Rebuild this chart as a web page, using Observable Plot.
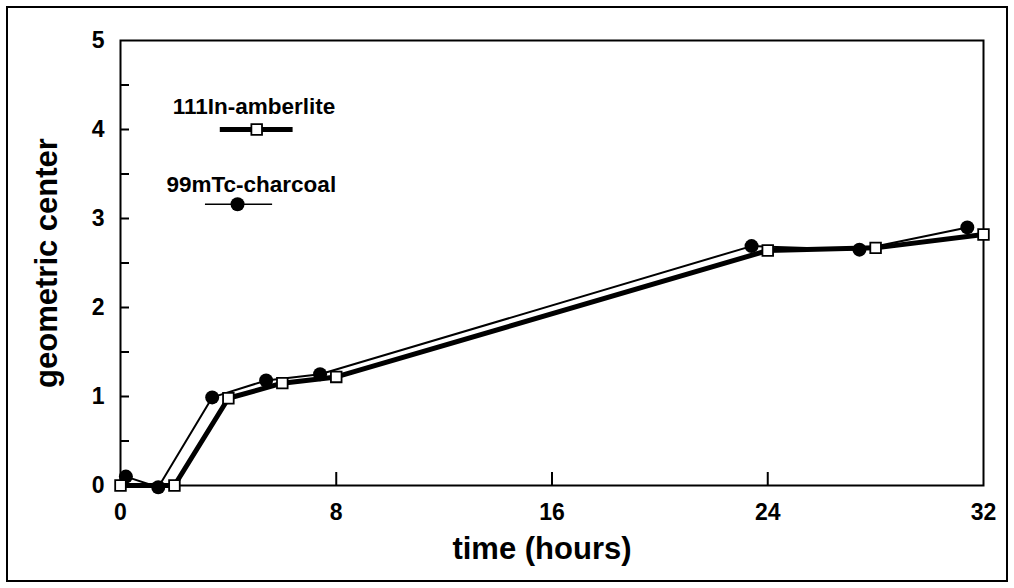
<!DOCTYPE html>
<html><head><meta charset="utf-8">
<script src="https://cdn.jsdelivr.net/npm/d3@7"></script>
<script src="https://cdn.jsdelivr.net/npm/@observablehq/plot@0.6"></script>
<style>
body{margin:0;background:#fff;}
#wrap{position:relative;width:1014px;height:588px;}
#border{position:absolute;left:6px;top:6px;width:998px;height:572px;border:2px solid #000;pointer-events:none;}
</style></head><body>
<div id="wrap"><div id="border"></div></div>
<script>
// Data
const amberTime  = [0, 2, 4, 6, 8, 24, 28, 32];
const amberValue = [0, 0, 0.98, 1.15, 1.22, 2.64, 2.67, 2.82];
const charTime   = [0.2, 1.4, 3.4, 5.4, 7.4, 23.4, 27.4, 31.4];
const charValue  = [0.1, -0.02, 0.99, 1.18, 1.25, 2.69, 2.65, 2.9];
const seriesNames = ["111In-amberlite", "99mTc-charcoal"];
const xTickLabels = [0, 8, 16, 24, 32];
const xInnerTicks = [8, 16, 24];
const yTickLabels = [0, 1, 2, 3, 4, 5];
const yInnerTicks = [0.5, 1, 1.5, 2, 2.5, 3, 3.5, 4, 4.5];
const xTitle = "time (hours)";
const yTitle = "geometric center";

const amber = amberTime.map((t, i) => ({t, v: amberValue[i]}));
const charcoal = charTime.map((t, i) => ({t, v: charValue[i]}));

const W = 1014, H = 588, mL = 120, mR = 31, mT = 40, mB = 103;
const fw = W - mL - mR, fh = H - mT - mB;

// legend layout (in data coordinates)
const legAmber = {text: seriesNames[0], tx: 4.95, ty: 4.25, x1: 3.7, x2: 6.4, y: 4.0, mx: 5.05};
const legChar  = {text: seriesNames[1], tx: 4.85, ty: 3.38, x1: 3.15, x2: 5.64, y: 3.16, mx: 4.34};

const chart = Plot.plot({
  width: W, height: H,
  marginLeft: mL, marginRight: mR, marginTop: mT, marginBottom: mB,
  x: {domain: [0, 32]},
  y: {domain: [0, 5]},
  style: {fontFamily: "'Liberation Sans', Arial, sans-serif", fontSize: "23px", fontWeight: "bold", color: "#000", background: "transparent"},
  marks: [
    Plot.frame({stroke: "#000", strokeWidth: 2}),
    Plot.axisX({ticks: xTickLabels, tickSize: 0, tickPadding: 18, label: null, fontSize: 23, fontWeight: "bold", tickFormat: d => String(d)}),
    Plot.axisY({ticks: yTickLabels, tickSize: 0, tickPadding: 16, label: null, fontSize: 23, fontWeight: "bold", tickFormat: d => String(d)}),
    Plot.ruleX(xInnerTicks, {x: d => d, insetTop: fh - 13, stroke: "#000", strokeWidth: 2}),
    Plot.ruleY(yInnerTicks, {y: d => d, insetRight: fw - 9, stroke: "#000", strokeWidth: 2}),
    Plot.text([xTitle], {frameAnchor: "bottom", lineAnchor: "middle", dy: 64, dx: -10, fontSize: 31, fontWeight: "bold"}),
    Plot.text([yTitle], {frameAnchor: "left", textAnchor: "middle", lineAnchor: "middle", dx: -73, rotate: -90, fontSize: 31, fontWeight: "bold"}),
    Plot.line(charcoal, {x: "t", y: "v", stroke: "#000", strokeWidth: 2}),
    Plot.line(amber, {x: "t", y: "v", stroke: "#000", strokeWidth: 5}),
    Plot.dot(charcoal, {x: "t", y: "v", r: 7, fill: "#000", stroke: "none"}),
    Plot.dot(amber, {x: "t", y: "v", symbol: "square", r: 6, fill: "#fff", stroke: "#000", strokeWidth: 1.8}),
    // legend
    Plot.text([legAmber], {x: "tx", y: "ty", text: "text", fontSize: 22.5, fontWeight: "bold"}),
    Plot.ruleY([legAmber], {y: "y", x1: "x1", x2: "x2", stroke: "#000", strokeWidth: 5}),
    Plot.dot([legAmber], {x: "mx", y: "y", symbol: "square", r: 6, fill: "#fff", stroke: "#000", strokeWidth: 1.8}),
    Plot.text([legChar], {x: "tx", y: "ty", text: "text", fontSize: 22.5, fontWeight: "bold"}),
    Plot.ruleY([legChar], {y: "y", x1: "x1", x2: "x2", stroke: "#000", strokeWidth: 1.5}),
    Plot.dot([legChar], {x: "mx", y: "y", r: 7, fill: "#000", stroke: "none"})
  ]
});
document.getElementById("wrap").prepend(chart);
</script>
</body></html>
